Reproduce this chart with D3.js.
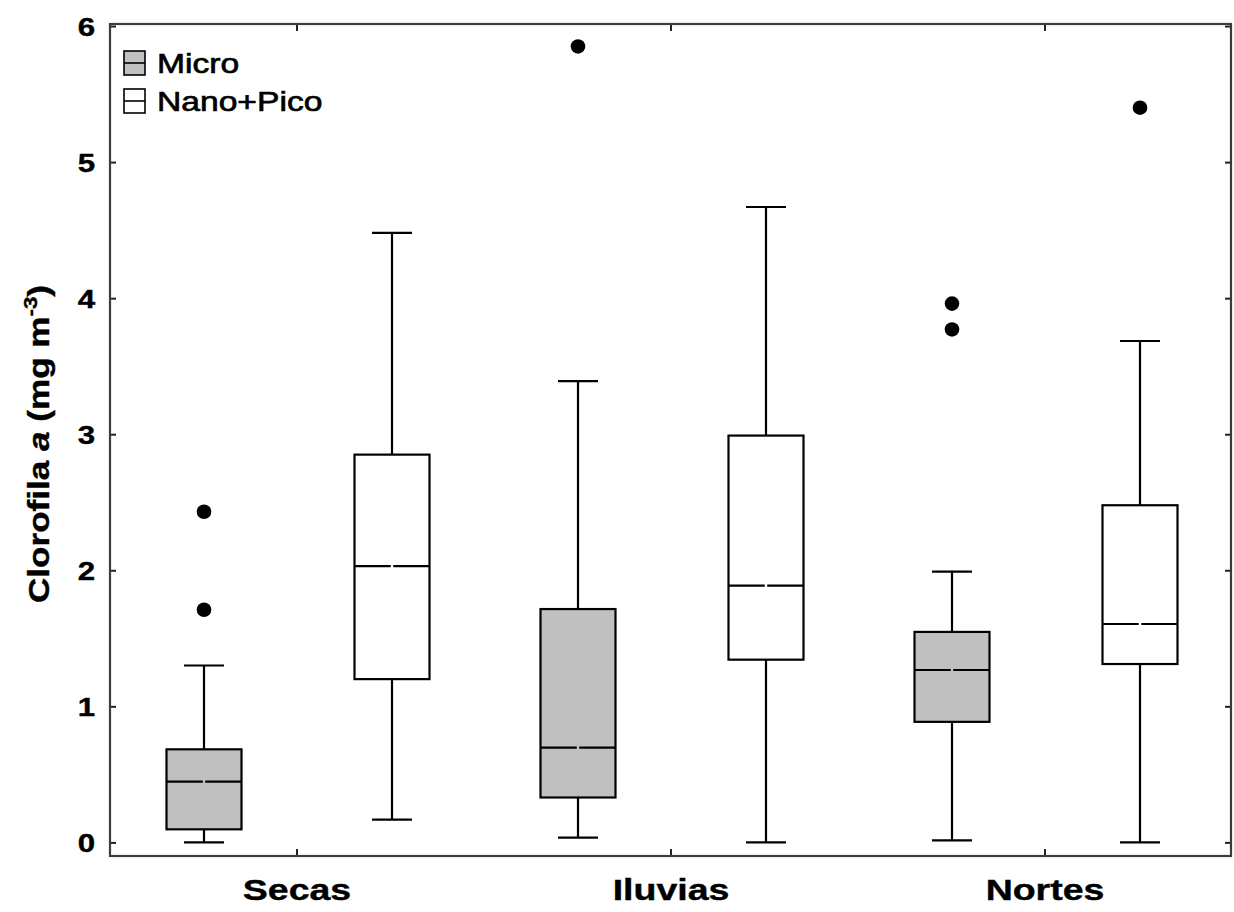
<!DOCTYPE html>
<html>
<head>
<meta charset="utf-8">
<script src="https://cdn.jsdelivr.net/npm/d3@7"></script>
<style>
  html, body { margin: 0; padding: 0; background: #fff; }
  svg { display: block; }
</style>
</head>
<body>
<script>
// Chlorophyll a by season and size fraction (box-and-whisker summary)
const categories = ["Secas", "Iluvias", "Nortes"];
const series = ["Micro", "Nano+Pico"];
const yTicks = [0, 1, 2, 3, 4, 5, 6];

// Micro fraction: whisker low, Q1, median, Q3, whisker high, outliers
const microLow    = [0.00, 0.035, 0.015];
const microQ1     = [0.096, 0.33, 0.886];
const microMedian = [0.446, 0.696, 1.267];
const microQ3     = [0.684, 1.715, 1.547];
const microHigh   = [1.30, 3.39, 1.99];
const microOut    = [[1.71, 2.43], [5.85], [3.77, 3.96]];

// Nano+Pico fraction
const nanoLow    = [0.167, 0.00, 0.00];
const nanoQ1     = [1.20, 1.343, 1.311];
const nanoMedian = [2.03, 1.887, 1.605];
const nanoQ3     = [2.85, 2.99, 2.478];
const nanoHigh   = [4.48, 4.67, 3.685];
const nanoOut    = [[], [], [5.40]];

const W = 1234, H = 912;
const plot = { left: 110, right: 1231, top: 24, bottom: 856 };
const stretch = 1.25;       // wide letterforms
const legendStretch = 1.18;

const svg = d3.select("body").append("svg")
  .attr("width", W).attr("height", H);

const x = d3.scaleBand().domain(categories).range([plot.left, 1232]).padding(0);
const sub = d3.scalePoint().domain(series).range([-93, 95]);
const y = d3.scaleLinear().domain([-0.1, 6.015]).range([plot.bottom, plot.top]);

const fills = { "Micro": "#c0c0c0", "Nano+Pico": "#ffffff" };
const boxW = 75, capW = 40;

// Assemble box records from the named arrays
const groups = [
  { s: "Micro", low: microLow, q1: microQ1, med: microMedian, q3: microQ3, high: microHigh, out: microOut },
  { s: "Nano+Pico", low: nanoLow, q1: nanoQ1, med: nanoMedian, q3: nanoQ3, high: nanoHigh, out: nanoOut }
];
const boxes = [];
groups.forEach(g => categories.forEach((c, i) => boxes.push({
  cat: c, s: g.s, low: g.low[i], q1: g.q1[i], med: g.med[i], q3: g.q3[i], high: g.high[i], out: g.out[i]
})));
const cx = d => x(d.cat) + x.bandwidth() / 2 + sub(d.s);

// Axes (ticks point into the plot area)
const fontFam = "'Liberation Sans', Arial, Helvetica, sans-serif";

const yAxis = svg.append("g")
  .attr("transform", `translate(${plot.left},0)`)
  .call(d3.axisLeft(y).tickValues(yTicks).tickSize(-6).tickPadding(15).tickFormat(d3.format("d")));
yAxis.select(".domain").remove();
yAxis.selectAll(".tick line").attr("stroke", "#222").attr("stroke-width", 2);
yAxis.selectAll(".tick text")
  .attr("x", -15 / stretch)
  .attr("dy", "0.36em")
  .attr("transform", `scale(${stretch},1)`)
  .attr("fill", "#000")
  .attr("stroke", "#000").attr("stroke-width", 0.4)
  .style("font-family", fontFam)
  .style("font-size", "25px")
  .style("font-weight", "bold");

const yAxisR = svg.append("g")
  .attr("transform", `translate(${plot.right},0)`)
  .call(d3.axisRight(y).tickValues(yTicks).tickSize(-6).tickFormat(""));
yAxisR.select(".domain").remove();
yAxisR.selectAll(".tick line").attr("stroke", "#222").attr("stroke-width", 2);

const xAxis = svg.append("g")
  .attr("transform", `translate(0,${plot.bottom})`)
  .call(d3.axisBottom(x).tickSize(-7));
xAxis.select(".domain").remove();
xAxis.selectAll(".tick line").attr("stroke", "#222").attr("stroke-width", 2);
xAxis.selectAll(".tick text")
  .attr("y", 44)
  .attr("dy", null)
  .attr("transform", `scale(${stretch},1)`)
  .attr("fill", "#000")
  .attr("stroke", "#000").attr("stroke-width", 0.4)
  .style("font-family", fontFam)
  .style("font-size", "30px")
  .style("font-weight", "bold");

const xAxisT = svg.append("g")
  .attr("transform", `translate(0,${plot.top})`)
  .call(d3.axisTop(x).tickSize(-7).tickFormat(""));
xAxisT.select(".domain").remove();
xAxisT.selectAll(".tick line").attr("stroke", "#222").attr("stroke-width", 2);

// Plot frame
svg.append("rect")
  .attr("x", plot.left).attr("y", plot.top)
  .attr("width", plot.right - plot.left).attr("height", plot.bottom - plot.top)
  .attr("fill", "none").attr("stroke", "#3c3c3c").attr("stroke-width", 2.2);

// Boxes
const bx = svg.append("g").attr("stroke", "#000").attr("stroke-width", 2.2);
const gBox = bx.selectAll("g.box").data(boxes).join("g").attr("class", "box");

// whisker stems
gBox.append("line")
  .attr("x1", cx).attr("x2", cx)
  .attr("y1", d => y(d.high)).attr("y2", d => y(d.q3));
gBox.append("line")
  .attr("x1", cx).attr("x2", cx)
  .attr("y1", d => y(d.q1)).attr("y2", d => y(d.low));
// whisker caps
gBox.append("line")
  .attr("x1", d => cx(d) - capW / 2).attr("x2", d => cx(d) + capW / 2)
  .attr("y1", d => y(d.high)).attr("y2", d => y(d.high));
gBox.append("line")
  .attr("x1", d => cx(d) - capW / 2).attr("x2", d => cx(d) + capW / 2)
  .attr("y1", d => y(d.low)).attr("y2", d => y(d.low));
// interquartile box
gBox.append("rect")
  .attr("x", d => cx(d) - boxW / 2).attr("width", boxW)
  .attr("y", d => y(d.q3)).attr("height", d => y(d.q1) - y(d.q3))
  .attr("fill", d => fills[d.s]);
// median, drawn as two halves
gBox.append("line")
  .attr("x1", d => cx(d) - boxW / 2).attr("x2", d => cx(d) - 1.2)
  .attr("y1", d => y(d.med)).attr("y2", d => y(d.med));
gBox.append("line")
  .attr("x1", d => cx(d) + 1.2).attr("x2", d => cx(d) + boxW / 2)
  .attr("y1", d => y(d.med)).attr("y2", d => y(d.med));

// Outliers
const outPts = boxes.flatMap(d => d.out.map(v => ({ cat: d.cat, s: d.s, v })));
svg.append("g").selectAll("circle").data(outPts).join("circle")
  .attr("cx", cx).attr("cy", d => y(d.v)).attr("r", 7.3).attr("fill", "#000");

// Y axis title
const title = svg.append("text")
  .attr("transform", `translate(49,${(plot.top + plot.bottom) / 2 + 4}) rotate(-90) scale(1.17,1)`)
  .attr("text-anchor", "middle")
  .style("font-family", fontFam)
  .style("font-size", "30px")
  .style("font-weight", "bold")
  .attr("stroke", "#000").attr("stroke-width", 0.4)
  .attr("fill", "#000");
title.append("tspan").text("Clorofila ");
title.append("tspan").attr("font-style", "italic").text("a");
title.append("tspan").text(" (mg m");
title.append("tspan").attr("dy", -12).style("font-size", "19px").text("-3");
title.append("tspan").attr("dy", 12).text(")");

// Legend
const legend = svg.append("g");
const legRows = legend.selectAll("g").data(series).join("g")
  .attr("transform", (d, i) => `translate(124,${51 + i * 38})`);
legRows.append("rect")
  .attr("width", 21).attr("height", 24)
  .attr("fill", d => fills[d]).attr("stroke", "#000").attr("stroke-width", 1.6);
legRows.append("line")
  .attr("x1", 0).attr("x2", 21).attr("y1", 12).attr("y2", 12)
  .attr("stroke", "#000").attr("stroke-width", 1.6);
legRows.append("text")
  .attr("transform", `translate(33,22) scale(${legendStretch},1)`)
  .style("font-family", fontFam)
  .style("font-size", "28.5px")
  .attr("fill", "#000")
  .attr("stroke", "#000").attr("stroke-width", 0.7)
  .text(d => d);
</script>
</body>
</html>
